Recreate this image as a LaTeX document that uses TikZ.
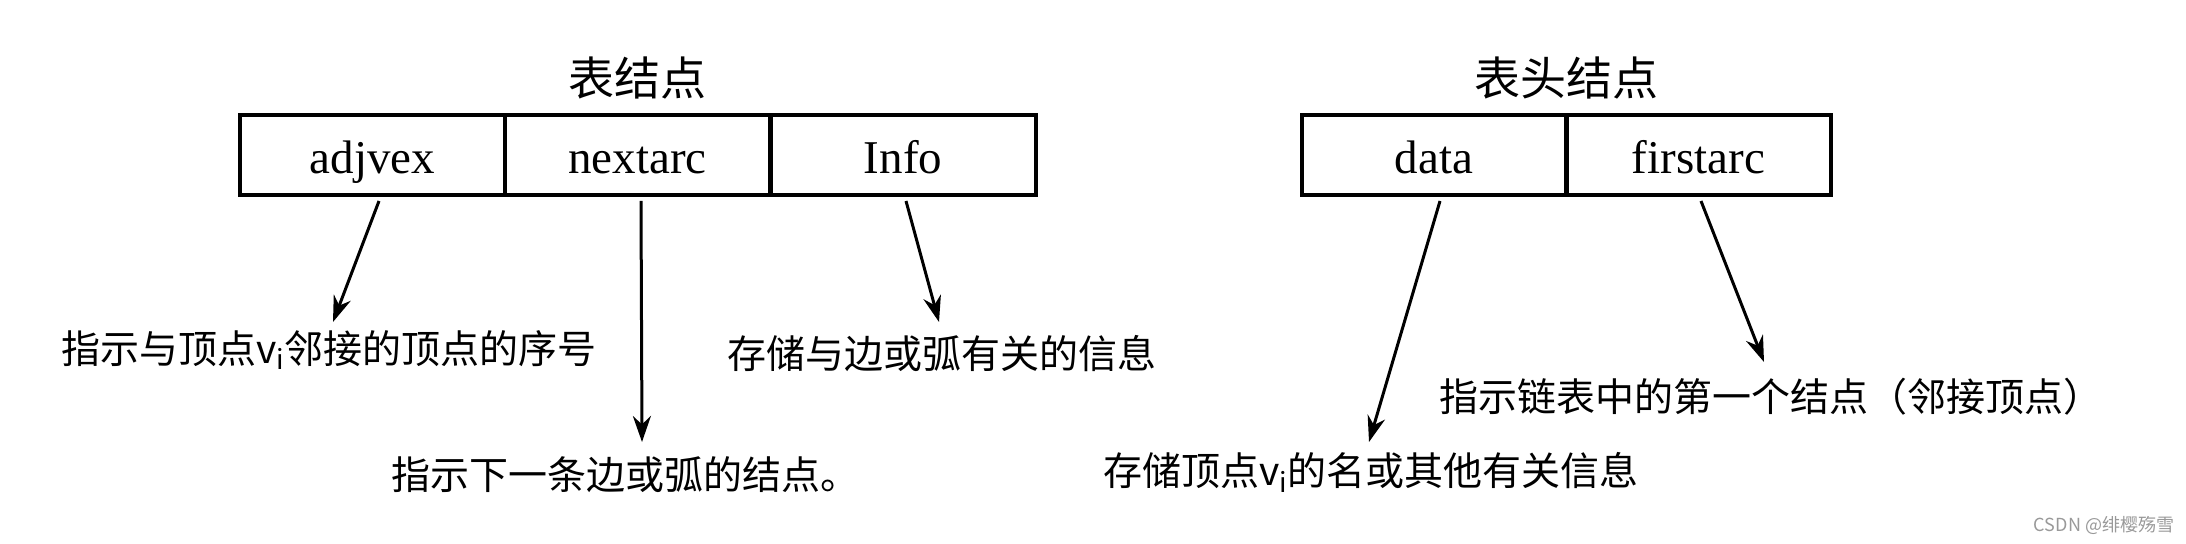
\documentclass[tikz,border=0pt]{standalone}
\usepackage{fontspec}
\setmainfont{Liberation Serif}
\newfontfamily\cjk{Noto Sans CJK SC}
\usetikzlibrary{arrows.meta}
\begin{document}
\begin{tikzpicture}[x=0.5pt,y=-0.5pt,
  cell/.style={draw,line width=2pt,minimum width=132.5pt,minimum height=40pt,inner sep=0pt,text height=19pt,text depth=0pt,font=\fontsize{23.5}{28}\selectfont},
  ttl/.style={font=\cjk\fontsize{23}{28}\selectfont,inner sep=0pt},
  desc/.style={font=\cjk\fontsize{19.5}{24}\selectfont,inner sep=0pt},
  arr/.style={line width=1.5pt,-{Stealth[length=13pt,width=9pt]}}]
\useasboundingbox (0,0) rectangle (2186,544);
% boxes
\node[cell] (adjvex) at (372.5,155) {adjvex};
\node[cell] (nextarc) at (637.5,155) {nextarc};
\node[cell] (info) at (903,155) {Info};
\node[cell] (data) at (1434,155) {data};
\node[cell] (firstarc) at (1698.5,155) {firstarc};
% titles
\node[ttl] (t1) at (637,78) {表结点};
\node[ttl] (t2) at (1566,78) {表头结点};
% descriptions
\node[desc] (d1) at (329,350) {指示与顶点v\textsubscript{i}邻接的顶点的序号};
\node[desc] (d2) at (625,475) {指示下一条边或弧的结点。};
\node[desc] (d3) at (942,354) {存储与边或弧有关的信息};
\node[desc] (d4) at (1771,397) {指示链表中的第一个结点（邻接顶点）};
\node[desc] (d5) at (1371,472) {存储顶点v\textsubscript{i}的名或其他有关信息};
\node[font=\cjk\fontsize{9}{10}\selectfont,text=black!40,inner sep=0pt] (wm) at (2104,525) {CSDN @绯樱殇雪};
% arrow ends
\coordinate (e1) at (333,322);
\coordinate (e2) at (642,442);
\coordinate (e3) at (939,322);
\coordinate (e4) at (1369,442);
\coordinate (e5) at (1764,362);
% arrows
\draw[arr] ([xshift=3.25pt,yshift=-2pt]adjvex.south) -- (e1);
\draw[arr] ([xshift=1.75pt,yshift=-2pt]nextarc.south) -- (e2);
\draw[arr] ([xshift=1.5pt,yshift=-2pt]info.south) -- (e3);
\draw[arr] ([xshift=3pt,yshift=-2pt]data.south) -- (e4);
\draw[arr] ([xshift=1.25pt,yshift=-2pt]firstarc.south) -- (e5);
\end{tikzpicture}
\end{document}
